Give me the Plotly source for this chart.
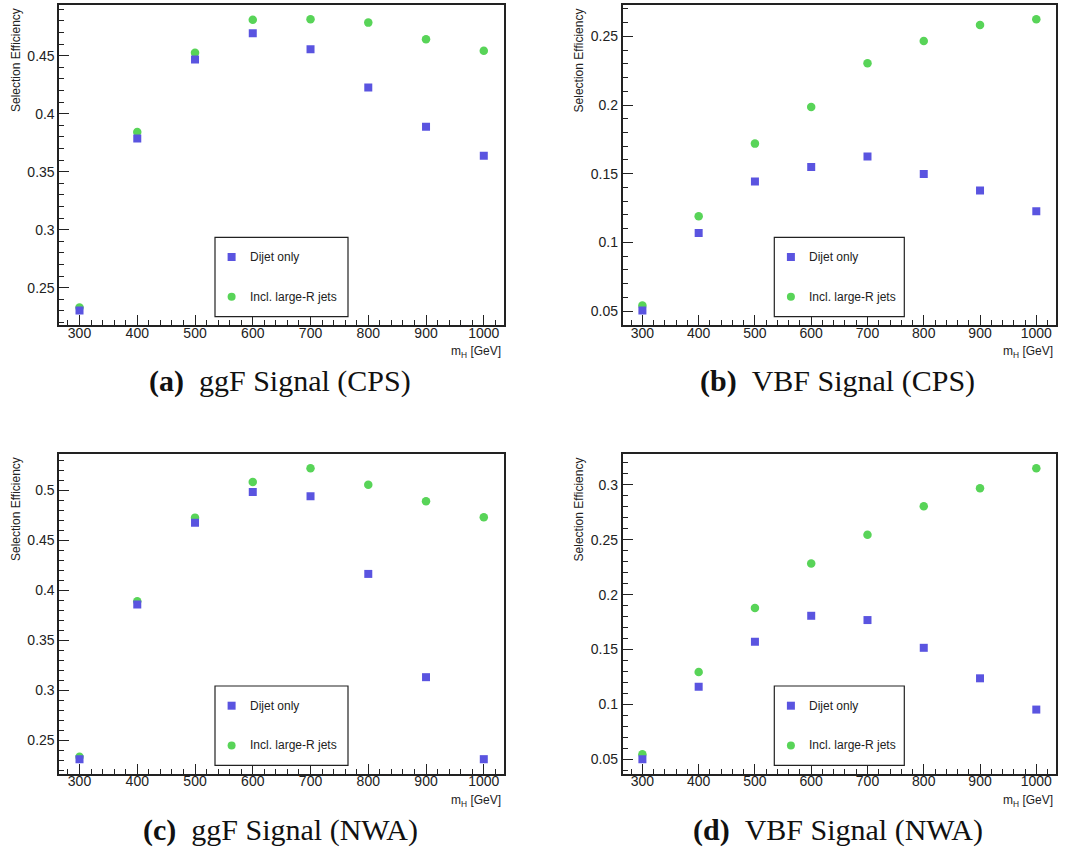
import plotly.graph_objects as go

W, H = 1076, 851

# Higgs mass points [GeV]
mass = [300, 400, 500, 600, 700, 800, 900, 1000]
mass_tick_labels = ["300", "400", "500", "600", "700", "800", "900", "1000"]

# Selection efficiencies
ggf_cps_dijet = [0.2304, 0.3786, 0.4468, 0.4693, 0.4555, 0.4225, 0.3888, 0.3638]
ggf_cps_large = [0.2330, 0.3842, 0.4526, 0.4809, 0.4814, 0.4785, 0.4641, 0.4543]
vbf_cps_dijet = [0.0505, 0.1068, 0.1444, 0.1549, 0.1626, 0.1498, 0.1378, 0.1226]
vbf_cps_large = [0.0541, 0.1190, 0.1719, 0.1985, 0.2304, 0.2466, 0.2583, 0.2624]
ggf_nwa_dijet = [0.2310, 0.3856, 0.4676, 0.4983, 0.4940, 0.4163, 0.3130, 0.2310]
ggf_nwa_large = [0.2333, 0.3890, 0.4726, 0.5083, 0.5220, 0.5056, 0.4890, 0.4730]
vbf_nwa_dijet = [0.0500, 0.1161, 0.1570, 0.1807, 0.1768, 0.1515, 0.1237, 0.0952]
vbf_nwa_large = [0.0545, 0.1295, 0.1879, 0.2284, 0.2546, 0.2806, 0.2970, 0.3152]

# Y tick values and labels per panel
ggf_cps_yticks = [0.25, 0.30, 0.35, 0.40, 0.45]
ggf_cps_ylabels = ["0.25", "0.3", "0.35", "0.4", "0.45"]
vbf_cps_yticks = [0.05, 0.10, 0.15, 0.20, 0.25]
vbf_cps_ylabels = ["0.05", "0.1", "0.15", "0.2", "0.25"]
ggf_nwa_yticks = [0.25, 0.30, 0.35, 0.40, 0.45, 0.50]
ggf_nwa_ylabels = ["0.25", "0.3", "0.35", "0.4", "0.45", "0.5"]
vbf_nwa_yticks = [0.05, 0.10, 0.15, 0.20, 0.25, 0.30]
vbf_nwa_ylabels = ["0.05", "0.1", "0.15", "0.2", "0.25", "0.3"]

series_names = ["Dijet only", "Incl. large-R jets"]
captions = [
    ("(a)", "ggF Signal (CPS)"),
    ("(b)", "VBF Signal (CPS)"),
    ("(c)", "ggF Signal (NWA)"),
    ("(d)", "VBF Signal (NWA)"),
]

BLUE = "#5a54e0"
GREEN = "#58d458"
INK = "#222222"
SANS = "Liberation Sans, Arial, sans-serif"
SERIF = "Liberation Serif, Times New Roman, serif"


def px(x):
    return x / W


def py(y):
    return 1 - y / H


# Frame boxes in pixels: (left, top, right, bottom)
frames = [
    (59.3, 4.7, 504.0, 325.0),
    (622.7, 4.7, 1056.0, 325.0),
    (59.3, 453.7, 504.0, 773.7),
    (622.7, 453.7, 1056.0, 773.7),
]
legend_widths = [133.0, 130.0, 133.0, 130.0]
legend_left = [215.0, 774.3, 215.0, 774.3]
legend_top = [237.3, 237.3, 686.0, 686.0]

panels = [
    (ggf_cps_dijet, ggf_cps_large, ggf_cps_yticks, ggf_cps_ylabels),
    (vbf_cps_dijet, vbf_cps_large, vbf_cps_yticks, vbf_cps_ylabels),
    (ggf_nwa_dijet, ggf_nwa_large, ggf_nwa_yticks, ggf_nwa_ylabels),
    (vbf_nwa_dijet, vbf_nwa_large, vbf_nwa_yticks, vbf_nwa_ylabels),
]


def padded(lo, hi, frac=0.05):
    span = hi - lo
    return [lo - frac * span, hi + frac * span]


fig = go.Figure()
layout = dict(
    width=W, height=H,
    margin=dict(l=0, r=0, t=0, b=0),
    paper_bgcolor="white", plot_bgcolor="white",
    showlegend=False,
    shapes=[], annotations=[],
)

for i, (dijet, large, yticks, ylabels) in enumerate(panels):
    n = "" if i == 0 else str(i + 1)
    xa, ya = "x" + n, "y" + n
    L, T, R, B = frames[i]

    fig.add_trace(go.Scatter(
        x=mass, y=large, mode="markers", name=series_names[1],
        xaxis=xa, yaxis=ya,
        marker=dict(symbol="circle", size=8.5, color=GREEN, line=dict(width=0)),
    ))
    fig.add_trace(go.Scatter(
        x=mass, y=dijet, mode="markers", name=series_names[0],
        xaxis=xa, yaxis=ya,
        marker=dict(symbol="square", size=8, color=BLUE, line=dict(width=0)),
    ))

    allv = dijet + large
    layout["xaxis" + n] = dict(
        domain=[px(L), px(R)], anchor=ya,
        range=padded(min(mass), max(mass)),
        tickmode="array", tickvals=mass, ticktext=mass_tick_labels,
        ticks="inside", ticklen=10, tickwidth=1.3, tickcolor=INK,
        ticklabelstandoff=-6,
        minor=dict(tickmode="linear", tick0=0, dtick=20, ticks="inside",
                   ticklen=5, tickwidth=1.3, tickcolor=INK),
        showline=True, linecolor=INK, linewidth=1.8, mirror=True,
        showgrid=False, zeroline=False,
        tickfont=dict(family=SANS, size=14, color=INK),
    )
    layout["yaxis" + n] = dict(
        domain=[py(B), py(T)], anchor=xa,
        range=padded(min(allv), max(allv)),
        tickmode="array", tickvals=yticks, ticktext=ylabels,
        ticks="inside", ticklen=10, tickwidth=1.3, tickcolor=INK,
        minor=dict(tickmode="linear", tick0=0, dtick=0.01, ticks="inside",
                   ticklen=5, tickwidth=1.3, tickcolor=INK),
        showline=True, linecolor=INK, linewidth=1.8, mirror=True,
        showgrid=False, zeroline=False,
        tickfont=dict(family=SANS, size=14, color=INK),
    )

    # Axis titles
    layout["annotations"].append(dict(
        text="Selection Efficiency", textangle=-90,
        xref="paper", yref="paper", x=px(L - 43.5), y=py(T + 1.5),
        xanchor="center", yanchor="top", showarrow=False,
        font=dict(family=SANS, size=12, color=INK),
    ))
    layout["annotations"].append(dict(
        text="m<sub>H</sub> [GeV]",
        xref="paper", yref="paper", x=px(R - 1), y=py(B + 17),
        xanchor="right", yanchor="top", showarrow=False,
        font=dict(family=SANS, size=12, color=INK),
    ))

    # Caption below the panel
    tag, desc = captions[i]
    layout["annotations"].append(dict(
        text="<b>" + tag + "</b>\u00a0\u00a0" + desc,
        xref="paper", yref="paper", x=px((L + R) / 2 - 1.5), y=py(B + 56),
        xanchor="center", yanchor="middle", showarrow=False,
        font=dict(family=SERIF, size=30, color="#111111"),
    ))

    # Legend box
    lx, ly, lw, lh = legend_left[i], legend_top[i], legend_widths[i], 79.4
    layout["shapes"].append(dict(
        type="rect", xref="paper", yref="paper",
        x0=px(lx), x1=px(lx + lw), y0=py(ly), y1=py(ly + lh),
        line=dict(color=INK, width=1.2), fillcolor="white", layer="above",
    ))
    for row, (name, color, kind) in enumerate(
            [(series_names[0], BLUE, "rect"), (series_names[1], GREEN, "circle")]):
        cy = ly + 19.7 + row * 39.7
        cx = lx + 16.6
        layout["shapes"].append(dict(
            type=kind, xref="paper", yref="paper",
            x0=px(cx - 4), x1=px(cx + 4), y0=py(cy + 4), y1=py(cy - 4),
            line=dict(width=0), fillcolor=color, layer="above",
        ))
        layout["annotations"].append(dict(
            text=name, xref="paper", yref="paper",
            x=px(lx + 32.5), y=py(cy),
            xanchor="left", yanchor="middle", showarrow=False,
            font=dict(family=SANS, size=12, color=INK),
        ))

fig.update_layout(**layout)
fig.write_html("out.html")
